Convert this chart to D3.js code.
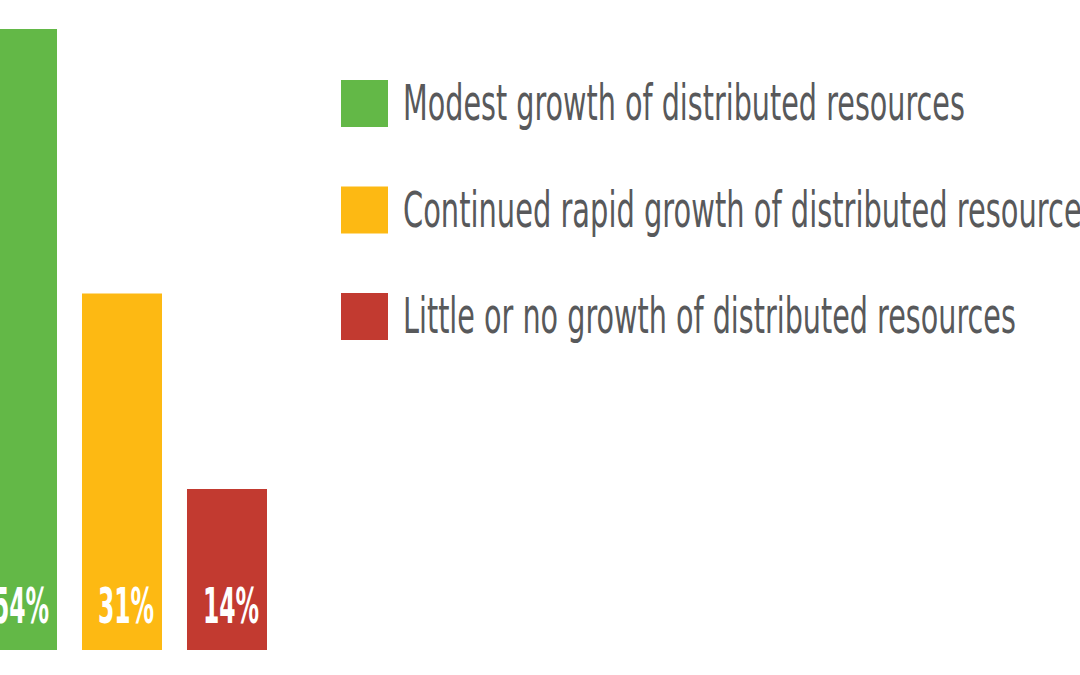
<!DOCTYPE html>
<html><head><meta charset="utf-8">
<script src="https://cdn.jsdelivr.net/npm/d3@7"></script>
<style>html,body{margin:0;padding:0;background:#fff;overflow:hidden}</style>
</head><body>
<svg id="c" width="1080" height="675"></svg>
<script>
const categories = ["Modest growth of distributed resources","Continued rapid growth of distributed resources","Little or no growth of distributed resources"];
const values = [54, 31, 14];
const valueLabels = ["54%", "31%", "14%"];
const colors = ["#63b847", "#fdb913", "#c23a30"];
const legendWidths = [562, 694, 613];

const svg = d3.select("#c");
const x = d3.scaleBand().domain(categories).range([-23, 267]).paddingInner(0.238).paddingOuter(0);
const y = d3.scaleLinear().domain([0, 56]).range([650, 6]);

svg.selectAll("rect.bar").data(categories).join("rect")
  .attr("class","bar")
  .attr("x", d => x(d)).attr("width", x.bandwidth())
  .attr("y", (d,i) => y(values[i])).attr("height", (d,i) => y(0) - y(values[i]))
  .attr("fill", (d,i) => colors[i]);

svg.selectAll("text.val").data(categories).join("text")
  .attr("class","val")
  .attr("transform", d => `translate(${x(d) + x.bandwidth()/2 + 4},623) scale(0.47,1)`)
  .attr("text-anchor","middle")
  .attr("font-family","DejaVu Sans").attr("font-weight","bold").attr("font-size", 50)
  .attr("fill","#fff")
  .text((d,i) => valueLabels[i]);

const ly = d3.scalePoint().domain(categories).range([80, 293]);
const leg = svg.selectAll("g.leg").data(categories).join("g").attr("class","leg")
  .attr("transform", d => `translate(341,${ly(d)})`);
leg.append("rect").attr("width",47).attr("height",47).attr("fill",(d,i)=>colors[i]);
leg.append("text")
  .attr("font-family","DejaVu Sans").attr("font-size",49)
  .attr("fill","#58595b").text(d => d)
  .each(function(d,i){
    const w = this.getComputedTextLength();
    const s = legendWidths[i] / w;
    d3.select(this).attr("transform", `translate(62,40) scale(${s},1)`);
  });
</script>
</body></html>
